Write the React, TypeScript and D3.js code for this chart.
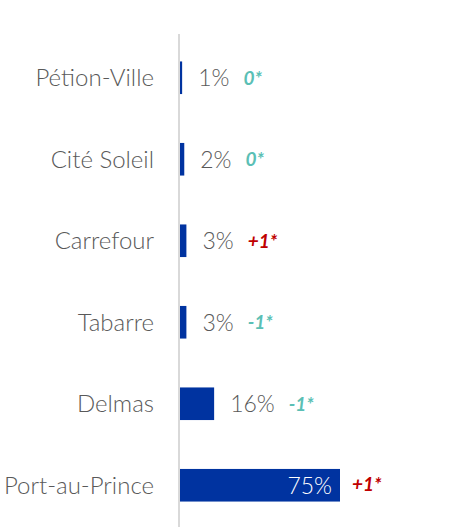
import React from "react";
import * as d3 from "d3";

const categories = ["Pétion-Ville", "Cité Soleil", "Carrefour", "Tabarre", "Delmas", "Port-au-Prince"];
const values = [1, 2, 3, 3, 16, 75];
const changes = ["0*", "0*", "+1*", "-1*", "-1*", "+1*"];

const W = 462;
const H = 527;
const x0 = 179;
const x = d3.scaleLinear().domain([0, 75]).range([x0 + 1, 340]);
const y = d3.scaleBand<string>().domain(categories).range([37, 526]).paddingInner(0.6).paddingOuter(0.3);

const FONT = "Lato, 'Open Sans', sans-serif";
const changeColor = (c: string) => (c.startsWith("+") ? "#C00000" : "#5BBFB5");

export default function App() {
  return (
    <svg width={W} height={H} style={{ position: "absolute", left: 0, top: 0, display: "block" }}>
      <rect width={W} height={H} fill="#ffffff" />
      <line x1={x0} x2={x0} y1={34} y2={H} stroke="#d9d9d9" strokeWidth={2} />
      {categories.map((c, i) => {
        const yy = y(c)!;
        const bw = y.bandwidth();
        const cy = yy + bw / 2;
        const xe = x(values[i]);
        const inside = values[i] > 50;
        return (
          <g key={c}>
            <text x={154} y={cy} dy="0.36em" textAnchor="end" fontFamily={FONT} fontWeight={300} fontSize={24} fill="#595959">
              {c}
            </text>
            <rect x={x0 + 1} y={yy} width={xe - x0 - 1} height={bw} fill="#0033A0" />
            {inside ? (
              <>
                <text x={xe - 8} y={cy} dy="0.36em" textAnchor="end" fontFamily={FONT} fontWeight={300} fontSize={23} fill="#ffffff">
                  {values[i] + "%"}
                </text>
                <text x={xe + 12} y={cy} dy="0.28em" fontFamily={FONT} fontWeight={700} fontStyle="italic" fontSize={19} fill={changeColor(changes[i])}>
                  {changes[i]}
                </text>
              </>
            ) : (
              <text x={xe + 16} y={cy} dy="0.36em" fontFamily={FONT} fontWeight={300} fontSize={23} fill="#595959">
                {values[i] + "%"}
                <tspan dx={14} dy="-0.08em" fontWeight={700} fontStyle="italic" fontSize={19} fill={changeColor(changes[i])}>
                  {changes[i]}
                </tspan>
              </text>
            )}
          </g>
        );
      })}
    </svg>
  );
}
